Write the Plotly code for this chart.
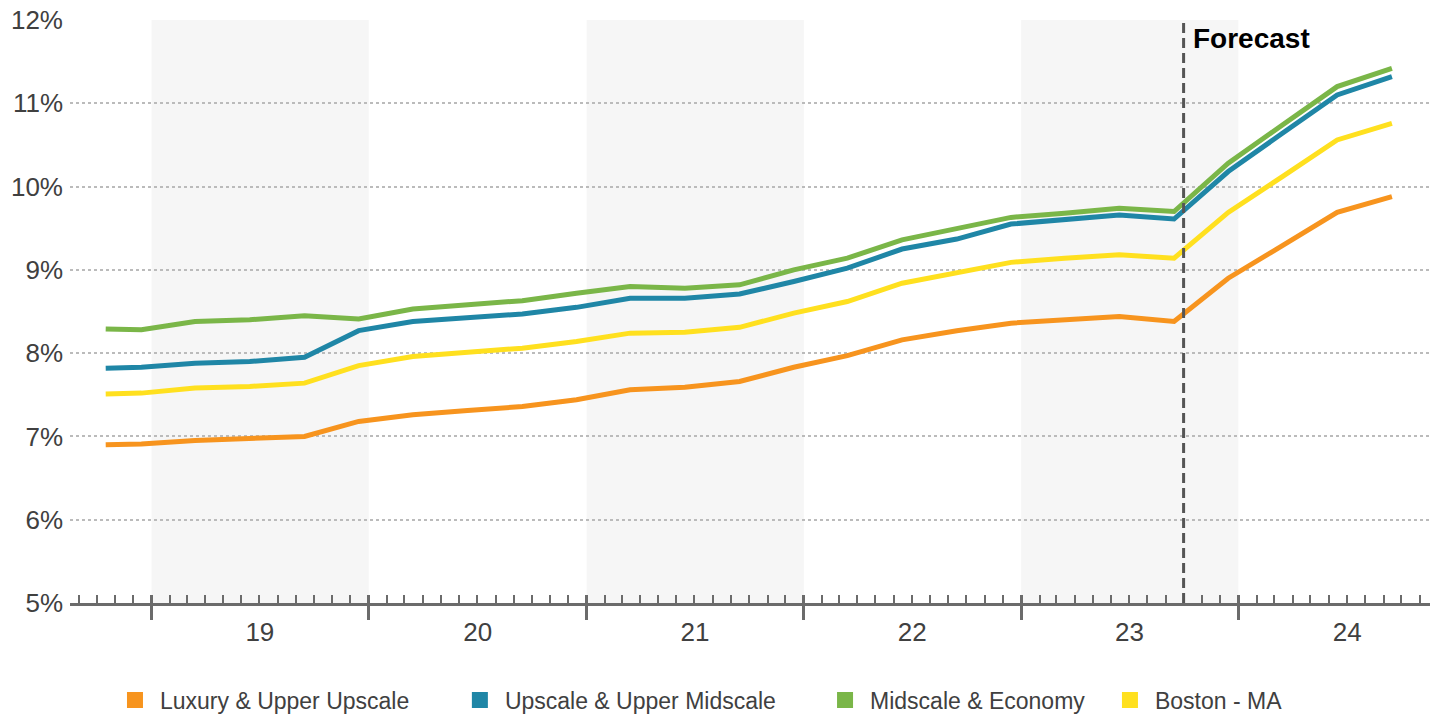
import plotly.graph_objects as go

# ---------------- data ----------------
dates = [
    "2018-10-16", "2018-12-15",
    "2019-03-15", "2019-06-15", "2019-09-15", "2019-12-15",
    "2020-03-15", "2020-06-15", "2020-09-15", "2020-12-15",
    "2021-03-15", "2021-06-15", "2021-09-15", "2021-12-15",
    "2022-03-15", "2022-06-15", "2022-09-15", "2022-12-15",
    "2023-03-15", "2023-06-15", "2023-09-15", "2023-12-15",
    "2024-03-15", "2024-06-15", "2024-09-15",
]

luxury = [6.90, 6.91, 6.95, 6.98, 7.00, 7.18, 7.26, 7.31, 7.36, 7.44,
          7.56, 7.59, 7.66, 7.83, 7.97, 8.16, 8.27, 8.36, 8.40, 8.44,
          8.38, 8.90, 9.29, 9.69, 9.88]
upscale = [7.82, 7.83, 7.88, 7.90, 7.95, 8.27, 8.38, 8.42, 8.47, 8.55,
           8.66, 8.66, 8.71, 8.86, 9.02, 9.25, 9.37, 9.55, 9.61, 9.66,
           9.61, 10.18, 10.64, 11.10, 11.32]
midscale = [8.29, 8.28, 8.38, 8.40, 8.45, 8.41, 8.53, 8.58, 8.63, 8.72,
            8.80, 8.78, 8.82, 9.00, 9.14, 9.36, 9.49, 9.63, 9.68, 9.74,
            9.70, 10.28, 10.74, 11.20, 11.42]
boston = [7.51, 7.52, 7.58, 7.60, 7.64, 7.85, 7.96, 8.01, 8.06, 8.14,
          8.24, 8.25, 8.31, 8.48, 8.62, 8.84, 8.96, 9.09, 9.14, 9.18,
          9.14, 9.69, 10.12, 10.56, 10.76]

series_names = ["Luxury & Upper Upscale", "Upscale & Upper Midscale",
                "Midscale & Economy", "Boston - MA"]
series_values = [luxury, upscale, midscale, boston]
series_colors = ["#F7941E", "#1F86A6", "#7AB648", "#FFE01F"]

year_starts = ["2019-01-01", "2020-01-01", "2021-01-01", "2022-01-01",
               "2023-01-01", "2024-01-01"]
year_mids = ["2019-07-02", "2020-07-02", "2021-07-02", "2022-07-02",
             "2023-07-02", "2024-07-02"]
year_labels = ["19", "20", "21", "22", "23", "24"]
shaded_years = [("2019-01-01", "2020-01-01"), ("2021-01-01", "2022-01-01"),
                ("2023-01-01", "2024-01-01")]
forecast_start = "2023-10-01"
y_ticks = [5, 6, 7, 8, 9, 10, 11, 12]
y_ticktext = ["5%", "6%", "7%", "8%", "9%", "10%", "11%", "12%"]

x_range = ["2018-08-17", "2024-11-18"]

# legend positions (paper x) for each entry
legend_x = [0.0294, 0.283, 0.5515, 0.761]

FONT = "Liberation Sans, Arial, sans-serif"
AXIS_COLOR = "#6b6b6b"
TEXT_COLOR = "#404040"

fig = go.Figure()

for name, vals, col in zip(series_names, series_values, series_colors):
    fig.add_trace(go.Scatter(
        x=dates, y=vals, mode="lines", name=name, legendgroup=name,
        line=dict(color=col, width=5), showlegend=False,
        hoverinfo="x+y+name",
    ))

legend_keys = ["legend", "legend2", "legend3", "legend4"]
for name, col, lk in zip(series_names, series_colors, legend_keys):
    fig.add_trace(go.Scatter(
        x=[None], y=[None], mode="markers", name=name, legendgroup=name,
        marker=dict(symbol="square", size=16, color=col),
        showlegend=True, legend=lk,
    ))

shapes = []
for x0, x1 in shaded_years:
    shapes.append(dict(type="rect", xref="x", yref="y", x0=x0, x1=x1,
                       y0=5, y1=12, fillcolor="#F6F6F6",
                       line=dict(width=0), layer="below"))
shapes.append(dict(type="line", xref="x", yref="paper",
                   x0=forecast_start, x1=forecast_start, y0=0, y1=1,
                   line=dict(color="#555555", width=3, dash="10px,5px"),
                   layer="above"))

legend_common = dict(orientation="h", xanchor="left", yref="container",
                     y=0.021, yanchor="middle",
                     font=dict(size=23, color=TEXT_COLOR),
                     itemsizing="trace", itemwidth=40,
                     bgcolor="rgba(0,0,0,0)")
legends = {}
for lk, lx in zip(legend_keys, legend_x):
    d = dict(legend_common)
    d["x"] = lx
    legends[lk] = d

fig.update_layout(
    width=1440, height=715,
    margin=dict(l=70, r=10, t=20, b=112, autoexpand=False),
    paper_bgcolor="white", plot_bgcolor="white",
    font=dict(family=FONT, color=TEXT_COLOR),
    shapes=shapes,
    showlegend=True,
    **legends,
    xaxis=dict(
        type="date", range=x_range, anchor="y", automargin=False,
        showline=True, linecolor=AXIS_COLOR, linewidth=3,
        tickmode="array", tickvals=year_starts, ticks="outside",
        ticklen=14, tickwidth=3, tickcolor=AXIS_COLOR,
        showticklabels=False, showgrid=False, zeroline=False,
        minor=dict(ticks="inside", dtick="M1", tick0="2018-01-01",
                   ticklen=8, tickwidth=1.5, tickcolor=AXIS_COLOR,
                   showgrid=False),
    ),
    xaxis2=dict(
        type="date", range=x_range, overlaying="x", anchor="y",
        automargin=False,
        tickmode="array", tickvals=year_starts, ticks="inside",
        ticklen=8, tickwidth=3, tickcolor=AXIS_COLOR,
        showticklabels=False, showgrid=False, showline=False,
        zeroline=False,
    ),
    xaxis3=dict(
        type="date", range=x_range, overlaying="x", anchor="y",
        automargin=False,
        tickmode="array", tickvals=year_mids, ticktext=year_labels,
        ticks="outside", ticklen=6, tickcolor="rgba(0,0,0,0)",
        tickfont=dict(size=26, color=TEXT_COLOR, family=FONT),
        showgrid=False, showline=False, zeroline=False,
    ),
    yaxis=dict(
        range=[5, 12], tickmode="array", tickvals=y_ticks, automargin=False,
        ticktext=y_ticktext, tickfont=dict(size=26, color=TEXT_COLOR),
        ticklabelstandoff=6,
        showgrid=True, gridcolor="#BBBBBB", griddash="dot", gridwidth=1.5,
        zeroline=False, showline=False, ticks="",
    ),
    annotations=[dict(
        x=forecast_start, y=1, xref="x", yref="paper",
        xanchor="left", yanchor="top", xshift=7, yshift=-1,
        text="<b>Forecast</b>", showarrow=False,
        font=dict(size=28, color="#000000", family=FONT),
    )],
)

# dummy invisible traces so overlay axes are drawn
fig.add_trace(go.Scatter(x=[None], y=[None], xaxis="x2", yaxis="y",
                         showlegend=False, hoverinfo="skip"))
fig.add_trace(go.Scatter(x=[None], y=[None], xaxis="x3", yaxis="y",
                         showlegend=False, hoverinfo="skip"))

fig.write_html("out.html")
